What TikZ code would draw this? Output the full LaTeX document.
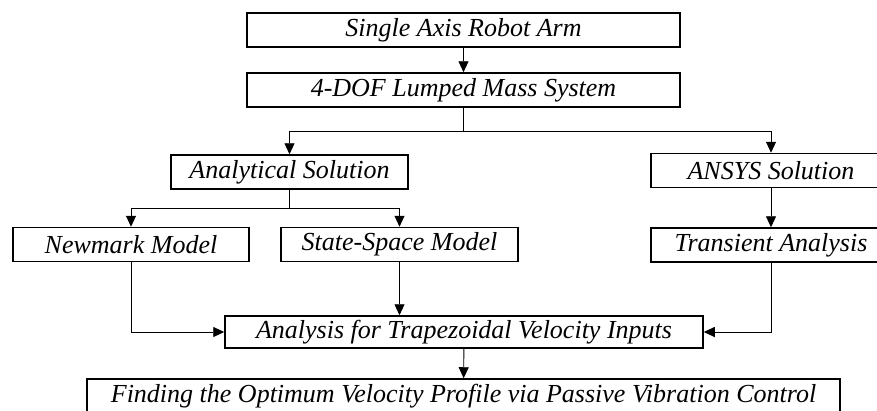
\documentclass[tikz,border=0pt]{standalone}
\usepackage{fontspec}
\setmainfont{Liberation Serif}
\usepackage{tikz}
\usetikzlibrary{arrows.meta, positioning, calc}
\tikzset{
  flowbox/.style={
    draw, line width=1.5pt, align=center, inner sep=0pt,
    font=\itshape\fontsize{26}{30}\selectfont, fill=white,
    minimum height=34pt
  },
  flowline/.style={
    line width=0.9pt, color=black
  },
  flowarrow/.style={
    -{Triangle[length=11pt,width=10pt]}, line width=0.9pt, color=black
  },
}
\begin{document}
\begin{tikzpicture}[x=1pt, y=-1pt]
  \useasboundingbox (0,0) rectangle (877,410);
  \clip (0,0) rectangle (877,410);

  % ---- Model ----
  \node[flowbox, minimum width=433pt] (robot) at (463.5, 30)
    {Single Axis Robot Arm};
  \node[flowbox, minimum width=433pt] (lumped) at (463.5, 90)
    {4-DOF Lumped Mass System};
  \draw[flowarrow] (robot) -- (lumped);

  % ---- Solutions ----
  \node[flowbox, minimum width=237pt] (analytic) at (289.5, 172)
    {Analytical Solution};
  \node[flowbox, minimum width=240pt] (ansys) at (771, 170.5)
    {ANSYS Solution};

  \coordinate (split1) at (463.5, 131);
  \draw[flowline] (lumped) -- (split1);
  \draw[flowarrow] (split1) -| (analytic);
  \draw[flowarrow] (split1) -| (ansys);

  % ---- Models ----
  \node[flowbox, minimum width=236pt] (newmark) at (131, 244.5)
    {Newmark Model};
  \node[flowbox, minimum width=237pt] (statespace) at (399.5, 244.5)
    {State-Space Model};
  \node[flowbox, minimum width=240pt] (transient) at (771, 245)
    {Transient Analysis};

  \coordinate (split2) at (289.5, 208);
  \draw[flowline] (analytic) -- (split2);
  \draw[flowarrow] (split2) -| (newmark);
  \draw[flowarrow] (split2) -| (statespace);
  \draw[flowarrow] (ansys) -- (transient);

  % ---- Analysis ----
  \node[flowbox, minimum width=478pt, minimum height=32pt] (trapez) at (464, 332)
    {Analysis for Trapezoidal Velocity Inputs};

  \draw[flowarrow] (newmark.south) |- (trapez.west);
  \draw[flowarrow] (statespace.south) -- (statespace.south |- trapez.north);
  \draw[flowarrow] (transient.south) |- (trapez.east);

  % ---- Result ----
  \node[flowbox, minimum width=753pt] (optimum) at (463.5, 396)
    {Finding the Optimum Velocity Profile via Passive Vibration Control};
  \draw[flowarrow] (trapez) -- (optimum);
\end{tikzpicture}
\end{document}
